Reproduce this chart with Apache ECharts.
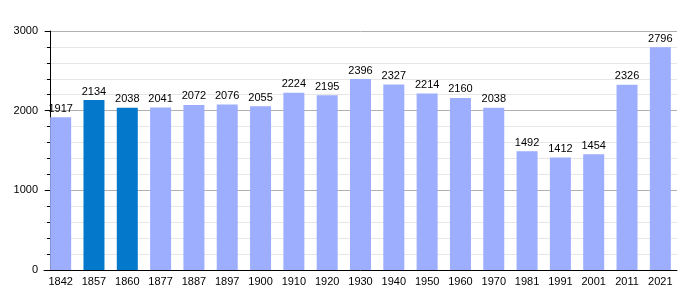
<!DOCTYPE html>
<html><head><meta charset="utf-8">
<script src="https://cdn.jsdelivr.net/npm/echarts@6/dist/echarts.min.js"></script>
<style>html,body{margin:0;padding:0;background:#fff}#c{width:700px;height:300px}</style>
</head><body><div id="c"></div>
<script>
const years = ['1842','1857','1860','1877','1887','1897','1900','1910','1920','1930','1940','1950','1960','1970','1981','1991','2001','2011','2021'];
const population = [1917,2134,2038,2041,2072,2076,2055,2224,2195,2396,2327,2214,2160,2038,1492,1412,1454,2326,2796];
const highlighted = ['1857','1860'];
const yTicks = [0,1000,2000,3000];

const font = 'Liberation Sans, Arial, sans-serif';
const chart = echarts.init(document.getElementById('c'), null, {renderer:'canvas'});
chart.setOption({
  animation:false,
  grid:{left:44, right:23, top:31, bottom:30},
  xAxis:{
    type:'category', data:years,
    axisLine:{show:true, lineStyle:{color:'#000', width:1}},
    axisTick:{show:false},
    axisLabel:{color:'#000', fontFamily:font, fontSize:11, margin:6, interval:0},
    splitLine:{show:false}
  },
  yAxis:{
    type:'value', min:yTicks[0], max:yTicks[yTicks.length-1], interval:1000, offset:-6,
    axisLine:{show:true, lineStyle:{color:'#000', width:1}},
    axisTick:{show:true, length:5, lineStyle:{color:'#000'}},
    minorTick:{show:true, splitNumber:5, length:3, lineStyle:{color:'#000'}},
    axisLabel:{color:'#000', fontFamily:font, fontSize:11, margin:12, formatter:(v)=>String(v)},
    splitLine:{show:true, lineStyle:{color:'#b0b0b0', width:1}},
    minorSplitLine:{show:true, lineStyle:{color:'#e6e6e6', width:1}}
  },
  series:[{
    type:'bar', barWidth:21,
    data: years.map((y,i)=>({value:population[i], itemStyle:{color: highlighted.includes(y)?'#0479cc':'#9daefe'}})),
    label:{show:true, position:'top', distance:3, color:'#000', fontFamily:font, fontSize:11}
  }]
});
</script></body></html>
